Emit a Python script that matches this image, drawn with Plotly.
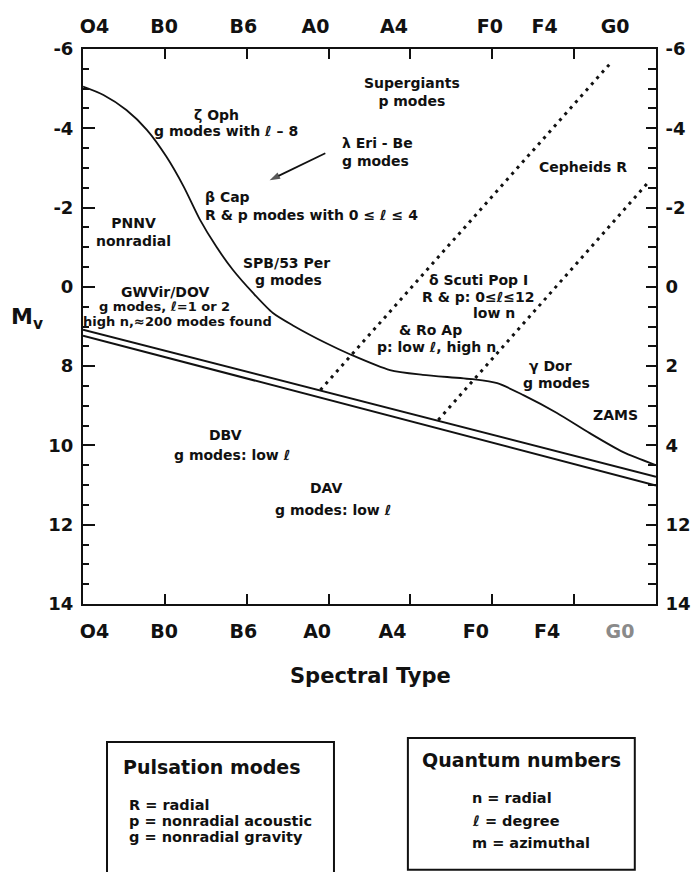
import plotly.graph_objects as go

# Spectral type axis: O4 ... G0 at unit spacing along x
spectral_types = ["O4", "B0", "B6", "A0", "A4", "F0", "F4", "G0"]
type_ticks = [1, 2, 3, 4, 5, 6]
top_label_pos = [0.14, 0.99, 1.96, 2.84, 3.80, 4.97, 5.64, 6.50]
bottom_label_pos = [0.14, 0.99, 1.96, 2.86, 3.78, 4.80, 5.67, 6.56]

# Absolute magnitude axis (evenly spaced tick rows)
mv_ticks = [-6, -4, -2, 0, 2, 4, 6, 8]
mv_left_text = ["-6", "-4", "-2", "0", "8", "10", "12", "14"]
mv_right_text = ["-6", "-4", "-2", "0", "2", "4", "12", "14"]

# Zero-age main sequence
zams_type = [0.0, 0.25, 0.53, 0.78, 1.02, 1.23, 1.43, 1.63, 1.83, 2.08, 2.32,
             2.57, 2.98, 3.26, 3.75, 4.15, 4.76, 5.06, 5.38, 5.79, 6.19, 6.60, 7.0]
zams_mv = [-5.05, -4.84, -4.46, -3.96, -3.28, -2.53, -1.69, -1.01, -0.43, 0.16, 0.66,
           0.98, 1.43, 1.70, 2.10, 2.22, 2.33, 2.43, 2.73, 3.18, 3.69, 4.17, 4.50]

# White dwarf cooling band
wd_upper_type = [0.0, 7.0]
wd_upper_mv = [1.08, 4.79]
wd_lower_type = [0.0, 7.0]
wd_lower_mv = [1.23, 5.01]

# Classical instability strip edges
blue_edge_type = [2.90, 6.46]
blue_edge_mv = [2.60, -5.68]
red_edge_type = [4.34, 6.91]
red_edge_mv = [3.36, -2.65]

# Pointer from the λ Eri label toward the main sequence
pointer_type = [2.96, 2.28]
pointer_mv = [-3.37, -2.69]

FONT = "DejaVu Sans"
BLACK = "#111111"

fig = go.Figure()

fig.add_trace(go.Scatter(x=zams_type, y=zams_mv, mode="lines",
                         line=dict(color=BLACK, width=1.8, shape="spline", smoothing=0.7),
                         hoverinfo="skip", showlegend=False))
for xs, ys in [(wd_upper_type, wd_upper_mv), (wd_lower_type, wd_lower_mv)]:
    fig.add_trace(go.Scatter(x=xs, y=ys, mode="lines", line=dict(color=BLACK, width=2),
                             hoverinfo="skip", showlegend=False))
for xs, ys in [(blue_edge_type, blue_edge_mv), (red_edge_type, red_edge_mv)]:
    fig.add_trace(go.Scatter(x=xs, y=ys, mode="lines",
                             line=dict(color=BLACK, width=3, dash="3px,5px"),
                             hoverinfo="skip", showlegend=False))
fig.add_trace(go.Scatter(x=pointer_type, y=pointer_mv, mode="lines+markers",
                         line=dict(color=BLACK, width=1.8),
                         marker=dict(symbol=["circle", "arrow"], size=[0, 11], color=BLACK,
                                     angleref="previous", line=dict(width=0)),
                         hoverinfo="skip", showlegend=False))

# placeholder traces so the label axes are laid out
for xa, ya in [("x2", "y"), ("x3", "y"), ("x", "y2")]:
    fig.add_trace(go.Scatter(x=[0], y=[0], xaxis=xa, yaxis=ya, mode="markers",
                             marker=dict(opacity=0), hoverinfo="skip", showlegend=False))

# Region labels: (text, x, y, xanchor, size)
labels = [
    ("ζ Oph", 1.63, -4.34, "center", 14),
    ("g modes with ℓ – 8", 1.75, -3.93, "center", 14),
    ("Supergiants<br>p modes", 4.02, -4.92, "center", 14),
    ("λ Eri - Be<br>g modes", 3.14, -3.40, "left", 14),
    ("β Cap", 1.47, -2.27, "left", 14),
    ("R & p modes with 0 ≤ ℓ ≤ 4", 1.47, -1.81, "left", 14),
    ("Cepheids R", 6.11, -3.03, "center", 14),
    ("PNNV<br>nonradial", 0.62, -1.38, "center", 14),
    ("SPB/53 Per", 2.49, -0.59, "center", 14),
    ("g modes", 2.51, -0.17, "center", 14),
    ("GWVir/DOV", 1.00, 0.12, "center", 14),
    ("g modes, ℓ=1 or 2", 1.00, 0.50, "center", 13),
    ("high n,≈200 modes found", 1.16, 0.88, "center", 13),
    ("δ Scuti Pop I", 4.83, -0.17, "center", 14),
    ("R & p: 0≤ℓ≤12", 4.83, 0.25, "center", 14),
    ("low n", 5.02, 0.67, "center", 14),
    ("& Ro Ap", 4.24, 1.09, "center", 14),
    ("p: low ℓ, high n", 4.32, 1.51, "center", 14),
    ("γ Dor", 5.71, 2.00, "center", 14),
    ("g modes", 5.79, 2.43, "center", 14),
    ("ZAMS", 6.50, 3.23, "center", 14),
    ("DBV", 1.74, 3.74, "center", 14),
    ("g modes: low ℓ", 1.82, 4.24, "center", 14),
    ("DAV", 2.98, 5.08, "center", 14),
    ("g modes: low ℓ", 3.05, 5.63, "center", 14),
]
annotations = []
for text, x, y, anchor, size in labels:
    annotations.append(dict(text=text, x=x, y=y, xref="x", yref="y", xanchor=anchor,
                            align=anchor, yanchor="middle", showarrow=False,
                            font=dict(family=FONT, size=size, color=BLACK, weight="bold")))

# axis titles
annotations.append(dict(text="Spectral Type", x=0.502, y=-0.130, xref="paper", yref="paper",
                        xanchor="center", yanchor="middle", showarrow=False,
                        font=dict(family=FONT, size=21, color=BLACK, weight="bold")))
annotations.append(dict(text="M<sub>v</sub>", x=-0.098, y=0.515, xref="paper", yref="paper",
                        xanchor="center", yanchor="middle", showarrow=False,
                        font=dict(family=FONT, size=22, color=BLACK, weight="bold")))

# key boxes below the diagram
box_title_font = dict(family=FONT, size=19, color=BLACK, weight="bold")
box_line_font = dict(family=FONT, size=14.5, color=BLACK, weight="bold")
annotations.append(dict(text="Pulsation modes", x=0.2246, y=-0.2932, xref="paper", yref="paper",
                        xanchor="center", yanchor="middle", showarrow=False, font=box_title_font))
for text, y in [("R = radial", -0.3622), ("p = nonradial acoustic", -0.3910),
                ("g = nonradial gravity", -0.4193)]:
    annotations.append(dict(text=text, x=0.0763, y=y, xref="paper", yref="paper",
                            xanchor="left", yanchor="middle", showarrow=False, font=box_line_font))
annotations.append(dict(text="Quantum numbers", x=0.7656, y=-0.2811, xref="paper", yref="paper",
                        xanchor="center", yanchor="middle", showarrow=False, font=box_title_font))
for text, y in [("n = radial", -0.3501), ("ℓ = degree", -0.3910), ("m = azimuthal", -0.4306)]:
    annotations.append(dict(text=text, x=0.6754, y=y, xref="paper", yref="paper",
                            xanchor="left", yanchor="middle", showarrow=False, font=box_line_font))

shapes = [
    dict(type="rect", xref="paper", yref="paper", x0=0.0419, x1=0.438, y0=-0.2486, y1=-0.52,
         line=dict(color=BLACK, width=2), fillcolor="rgba(0,0,0,0)"),
    dict(type="rect", xref="paper", yref="paper", x0=0.567, x1=0.963, y0=-0.2414, y1=-0.479,
         line=dict(color=BLACK, width=2), fillcolor="rgba(0,0,0,0)"),
]

tick_font = dict(family=FONT, size=19, color=BLACK, weight="bold")
num_font = dict(family=FONT, size=18, color=BLACK, weight="bold")
bottom_text = spectral_types[:-1] + ["<span style='color:#8a8a8a'>G0</span>"]

fig.update_layout(
    width=691, height=872, autosize=False,
    margin=dict(l=83, r=35, t=49, b=268, pad=0),
    paper_bgcolor="white", plot_bgcolor="white",
    showlegend=False,
    annotations=annotations, shapes=shapes,
    xaxis=dict(range=[0, 7], tickmode="array", tickvals=type_ticks, showticklabels=False,
               ticks="inside", ticklen=10, tickwidth=2, tickcolor=BLACK,
               showline=True, linewidth=2, linecolor=BLACK, mirror="ticks",
               showgrid=False, zeroline=False, fixedrange=True, automargin=False),
    xaxis2=dict(range=[0, 7], overlaying="x", side="top", anchor="y", tickmode="array",
                tickvals=top_label_pos, ticktext=spectral_types, ticks="",
                showline=False, showgrid=False, zeroline=False, tickfont=tick_font,
                ticklabelstandoff=11, automargin=False),
    xaxis3=dict(range=[0, 7], overlaying="x", side="bottom", anchor="y", tickmode="array",
                tickvals=bottom_label_pos, ticktext=bottom_text, ticks="",
                showline=False, showgrid=False, zeroline=False, tickfont=tick_font,
                ticklabelstandoff=14, automargin=False),
    yaxis=dict(range=[8, -6], tickmode="array", tickvals=mv_ticks, ticktext=mv_left_text,
               ticks="inside", ticklen=12, tickwidth=2, tickcolor=BLACK,
               minor=dict(tick0=-6, dtick=0.5, ticks="inside", ticklen=6, tickwidth=1.5,
                          tickcolor=BLACK, showgrid=False),
               showline=True, linewidth=2, linecolor=BLACK, mirror=True,
               showgrid=False, zeroline=False, tickfont=num_font, ticklabelstandoff=4,
               automargin=False),
    yaxis2=dict(range=[8, -6], overlaying="y", side="right", anchor="x", tickmode="array",
                tickvals=mv_ticks, ticktext=mv_right_text,
                ticks="inside", ticklen=10, tickwidth=2, tickcolor=BLACK,
                minor=dict(tick0=-6, dtick=0.5, ticks="inside", ticklen=8, tickwidth=1.5,
                           tickcolor=BLACK, showgrid=False),
                showline=True, linewidth=2, linecolor=BLACK,
                showgrid=False, zeroline=False, tickfont=num_font, ticklabelstandoff=4,
                automargin=False),
)

fig.write_html("out.html")
